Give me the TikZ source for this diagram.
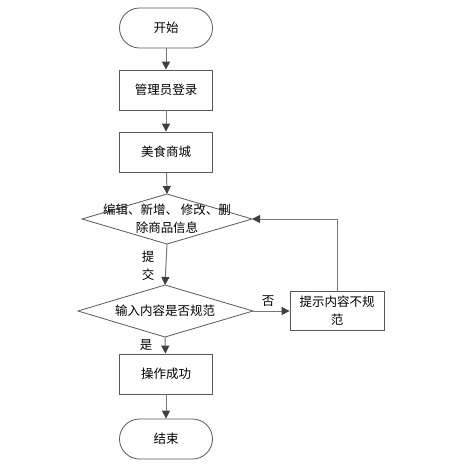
\documentclass[tikz,border=0pt]{standalone}
\usepackage{fontspec}
\setmainfont{Noto Sans CJK SC}
\usetikzlibrary{arrows.meta,shapes.geometric}
\definecolor{edge}{HTML}{595959}
\definecolor{lineg}{HTML}{777777}
\definecolor{tipc}{HTML}{404040}
\tikzset{
  x=1pt,y=-1pt,
  every node/.style={font=\fontsize{12.5}{18}\selectfont, text=black},
  term/.style={draw=edge, line width=0.8pt, rounded corners=20pt, minimum width=93pt, minimum height=40pt, inner sep=0pt},
  proc/.style={draw=edge, line width=0.8pt, minimum width=93pt, minimum height=40pt, inner sep=0pt, align=center},
  flow/.style={draw=lineg, line width=1pt, -{Triangle[length=8pt,width=8pt,color=tipc]}},
  lbl/.style={inner sep=0pt}
}
\begin{document}
\begin{tikzpicture}
\useasboundingbox (0,0) rectangle (462,472);
\node[term] (start) at (166,28) {开始};
\node[proc] (login) at (166,90) {管理员登录};
\node[proc] (mall) at (166,152) {美食商城};
\draw[draw=edge, line width=0.8pt] (82,219) coordinate (d1l) -- (167,194) coordinate (d1t) -- (252,219) coordinate (d1r) -- (167,244) coordinate (d1b) -- cycle;
\node[lbl, align=center] (d1) at (167,219) {编辑、新增、 修改、删\\除商品信息};
\draw[draw=edge, line width=0.8pt] (78,311) coordinate (d2l) -- (165,285) coordinate (d2t) -- (253,311) coordinate (d2r) -- (165,337) coordinate (d2b) -- cycle;
\node[lbl] (d2) at (165,311) {输入内容是否规范};
\node[proc, minimum width=94pt, minimum height=39pt, align=center] (warn) at (337,311) {提示内容不规\\范};
\node[proc] (ok) at (166,374) {操作成功};
\node[term] (end) at (166,439) {结束};
\draw[flow] (start) -- (login);
\draw[flow] (login) -- (mall);
\draw[flow] (mall) -- (d1t);
\draw[flow] (d1b) -- (d2t);
\draw[flow] (d2r) -- (warn);
\draw[flow] (d2b) -- (ok);
\draw[flow] (ok) -- (end);
\draw[flow] (warn.north) |- (d1r);
\node[lbl, align=center] (l1) at (148,266) {提\\交};
\node[lbl] (l2) at (268,301) {否};
\node[lbl] (l3) at (146,345) {是};
\end{tikzpicture}
\end{document}
